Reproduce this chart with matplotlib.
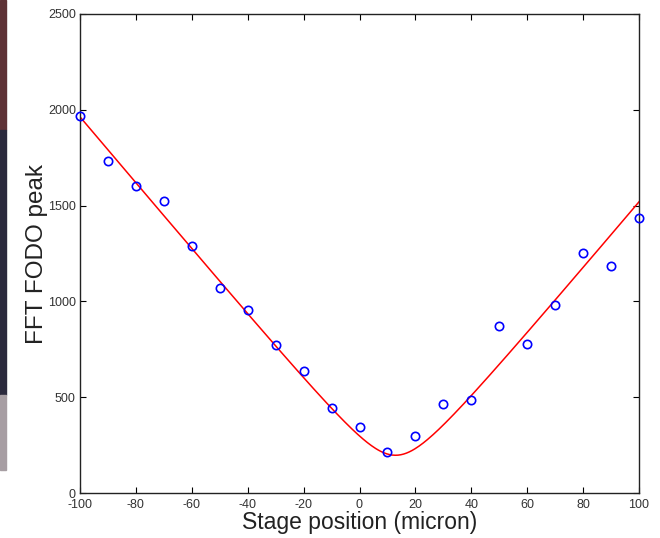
"""
FFT FODO peak vs stage position, with hyperbolic fit
"""

import numpy as np
import matplotlib
matplotlib.use('Agg')
import matplotlib.pyplot as plt
from matplotlib.patches import Rectangle

plt.rcParams['font.family'] = ['Liberation Sans', 'DejaVu Sans']
plt.rcParams['axes.unicode_minus'] = False

# measured points
stage_pos = [-100, -90, -80, -70, -60, -50, -40, -30, -20, -10, 0,
             10, 20, 30, 40, 50, 60, 70, 80, 90, 100]
fodo_peak = [1968, 1733, 1602, 1524, 1289, 1070, 955, 772, 637, 444, 344,
             212, 298, 466, 487, 873, 778, 981, 1251, 1186, 1434]

# fit parameters: y = sqrt(ymin^2 + slope^2 * (x - x0)^2)
fit_x0 = 12.9
fit_min = 197.0
fit_slope = 17.3

x_ticks = [-100, -80, -60, -40, -20, 0, 20, 40, 60, 80, 100]
y_ticks = [0, 500, 1000, 1500, 2000, 2500]

fig = plt.figure(figsize=(6.6, 5.38), dpi=100, facecolor='white')

# dark strip at the left edge of the screenshot
W, H = 660, 538
for y0, y1, col in [(0, 130, '#5e3236'), (130, 395, '#2b2a3d'), (395, 470, '#a79ea3')]:
    fig.patches.append(Rectangle((0, 1 - y1 / H), 6 / W, (y1 - y0) / H,
                                 transform=fig.transFigure, color=col, zorder=0))

ax = fig.add_axes([80 / W, 1 - 493 / H, 559 / W, 479 / H])

xf = np.linspace(-100, 100, 400)
yf = np.sqrt(fit_min ** 2 + fit_slope ** 2 * (xf - fit_x0) ** 2)
ax.plot(xf, yf, color='#ff0000', lw=1.1, zorder=2)
ax.plot(stage_pos, fodo_peak, 'o', mfc='none', mec='#0000ff', ms=6, mew=1.2,
        zorder=3, clip_on=False)

ax.set_xlim(-100, 100)
ax.set_ylim(0, 2500)
ax.set_xticks(x_ticks)
ax.set_xticklabels([str(t) for t in x_ticks])
ax.set_yticks(y_ticks)
ax.set_yticklabels([str(t) for t in y_ticks])
ax.tick_params(direction='in', length=4, width=0.8, top=True, right=True,
               labelsize=9, labelcolor='#333333', pad=3)
ax.tick_params(axis='x', pad=4.5)
for s in ax.spines.values():
    s.set_linewidth(1.0)
    s.set_color('#222222')

ax.set_xlabel('Stage position (micron)', fontsize=16.5, color='#222222', labelpad=0)
ax.set_ylabel('FFT FODO peak', fontsize=17.5, color='#222222', labelpad=0)

plt.savefig('out.png', dpi=100, facecolor='white')
plt.close()
